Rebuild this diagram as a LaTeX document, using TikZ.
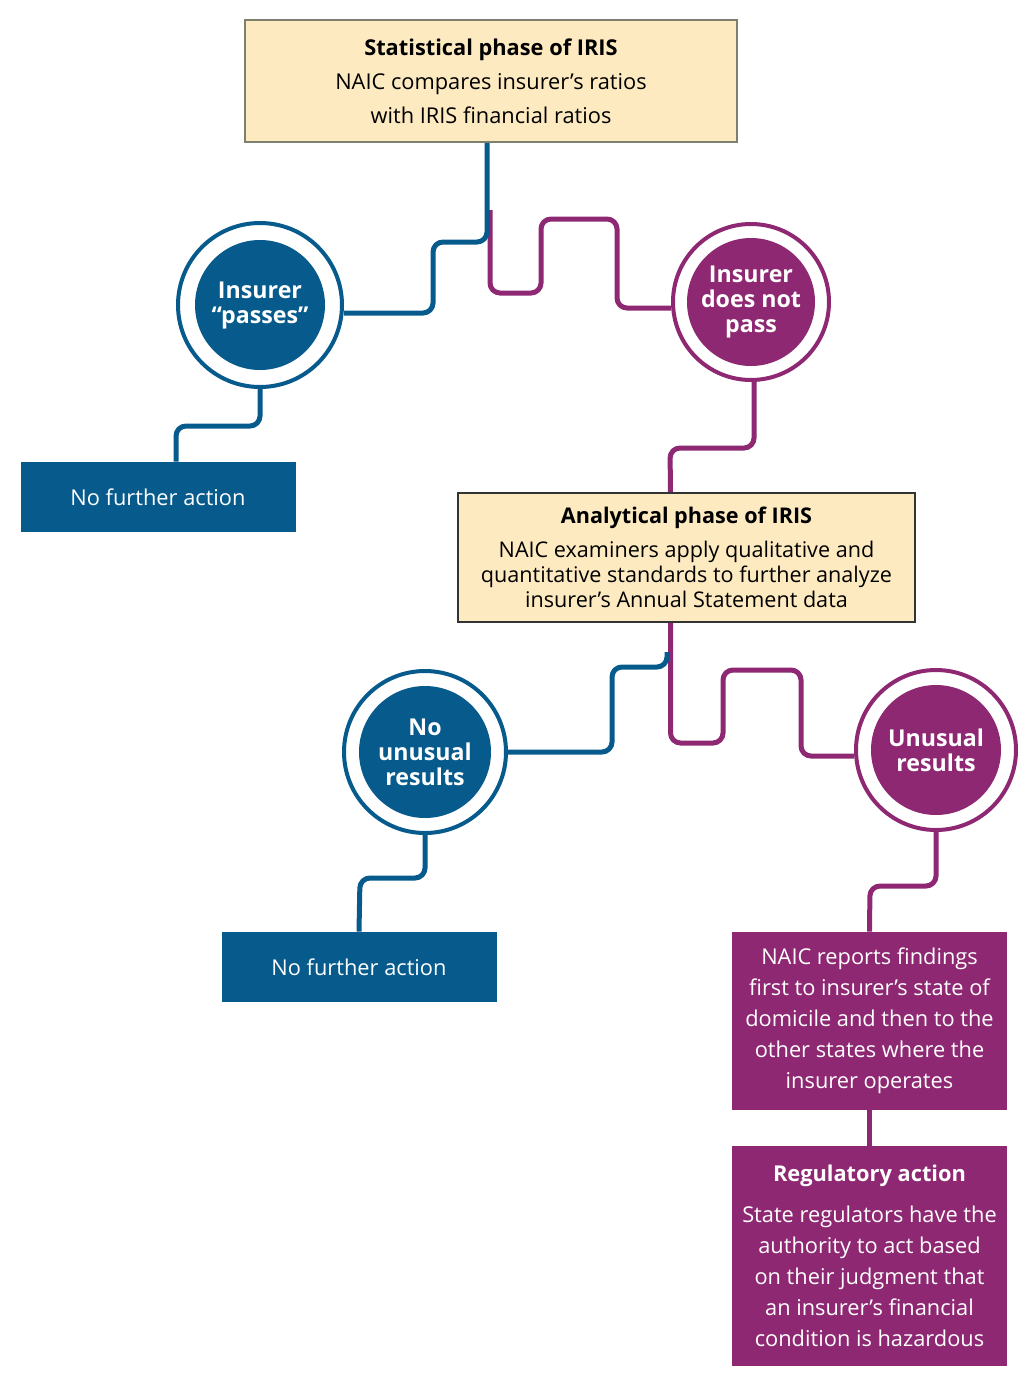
\documentclass[tikz,border=0pt]{standalone}
\usepackage{fontspec}
\setmainfont{Open Sans}
\usepackage{tikz}
\usetikzlibrary{backgrounds}
\definecolor{irisblue}{HTML}{065A8C}
\definecolor{irispurple}{HTML}{8E2872}
\definecolor{irisbeige}{HTML}{FDEAC0}
\definecolor{irisedge}{HTML}{7F7F6E}

\begin{document}
\begin{tikzpicture}[x=0.5pt, y=-0.5pt,
  phase/.style={draw=irisedge, line width=0.6pt, fill=irisbeige, align=center, inner sep=0pt},
  endbox/.style={fill=#1, text=white, align=center, inner sep=0pt, minimum width=137.5pt},
  ring/.style={circle, draw=#1, line width=2pt, fill=white, inner sep=0pt},
  disc/.style={circle, fill=#1, text=white, align=center, inner sep=0pt,
    font=\bfseries\fontsize{11.6}{12.5}\selectfont},
  link/.style={draw=#1, line width=2.5pt, rounded corners=5pt}]

\useasboundingbox (0,0) rectangle (1031,1398);

\node [phase, minimum width=246pt, minimum height=61pt, font=\fontsize{10.9}{17}\selectfont] (stat) at (491,81)
    {\textbf{Statistical phase of IRIS}\\NAIC compares insurer’s ratios\\with IRIS financial ratios};

\node [ring=irisblue, minimum size=82pt] (passring) at (260,305) {};
\node [disc=irisblue, minimum size=65pt] (passdisc) at (260,305) {Insurer\\“passes”};

\node [ring=irispurple, minimum size=78pt] (failring) at (751,302) {};
\node [disc=irispurple, minimum size=64pt] (faildisc) at (751,302) {Insurer\\does not\\pass};

\node [endbox=irisblue, minimum height=35pt, font=\fontsize{10.9}{12.5}\selectfont] (nofa1) at (158,497) {No further action};

\node [phase, draw=black!80, minimum width=228.5pt, minimum height=64.5pt, font=\fontsize{10.8}{12.5}\selectfont] (anal) at (686.5,557.5)
    {\textbf{Analytical phase of IRIS}\\[4.5pt]NAIC examiners apply qualitative and\\quantitative standards to further analyze\\insurer’s Annual Statement data};

\node [ring=irisblue, minimum size=81pt] (noring) at (425,752) {};
\node [disc=irisblue, minimum size=66pt] (nodisc) at (425,752) {No\\unusual\\results};

\node [ring=irispurple, minimum size=80pt] (unring) at (936,750) {};
\node [disc=irispurple, minimum size=65pt] (undisc) at (936,750) {Unusual\\results};

\node [endbox=irisblue, minimum height=35pt, font=\fontsize{10.9}{12.5}\selectfont] (nofa2) at (359,967) {No further action};

\node [endbox=irispurple, minimum height=89pt, font=\fontsize{10.9}{15.5}\selectfont] (rep) at (869.5,1021)
    {NAIC reports findings\\first to insurer’s state of\\domicile and then to the\\other states where the\\insurer operates};

\node [endbox=irispurple, minimum height=110pt, font=\fontsize{10.9}{15.5}\selectfont] (reg) at (869.5,1256)
    {\textbf{Regulatory action}\\[5pt]State regulators have the\\authority to act based\\on their judgment that\\an insurer’s financial\\condition is hazardous};

\coordinate (split1) at (490,210);
\coordinate (split2) at (667,652);

\begin{scope}[on background layer]
\draw [link=irispurple] (split1) |- (541,293) |- (617,219) |- ([yshift=-3pt]failring.west);
\draw [link=irisblue] ([xshift=-2pt]stat.south) |- (433,242) |- ([yshift=-4pt]passring.east);
\draw [link=irisblue] (passring.south) |- (176,426) -- ([xshift=9pt]nofa1.north);
\draw [link=irispurple] ([xshift=1.5pt]failring.south) |- (670,448) -- ([xshift=-8pt]anal.north);
\draw [link=irispurple] ([xshift=-8pt]anal.south) |- (723,743) |- (801,670) |- ([yshift=-3pt]unring.west);
\draw [link=irisblue] (split2) |- (612,667) |- (noring.east);
\draw [link=irisblue] (noring.south) |- (360,878) -- (nofa2.north);
\draw [link=irispurple] (unring.south) |- (870,886) -- (rep.north);
\draw [link=irispurple] (rep.south) -- (reg.north);
\end{scope}
\end{tikzpicture}
\end{document}
